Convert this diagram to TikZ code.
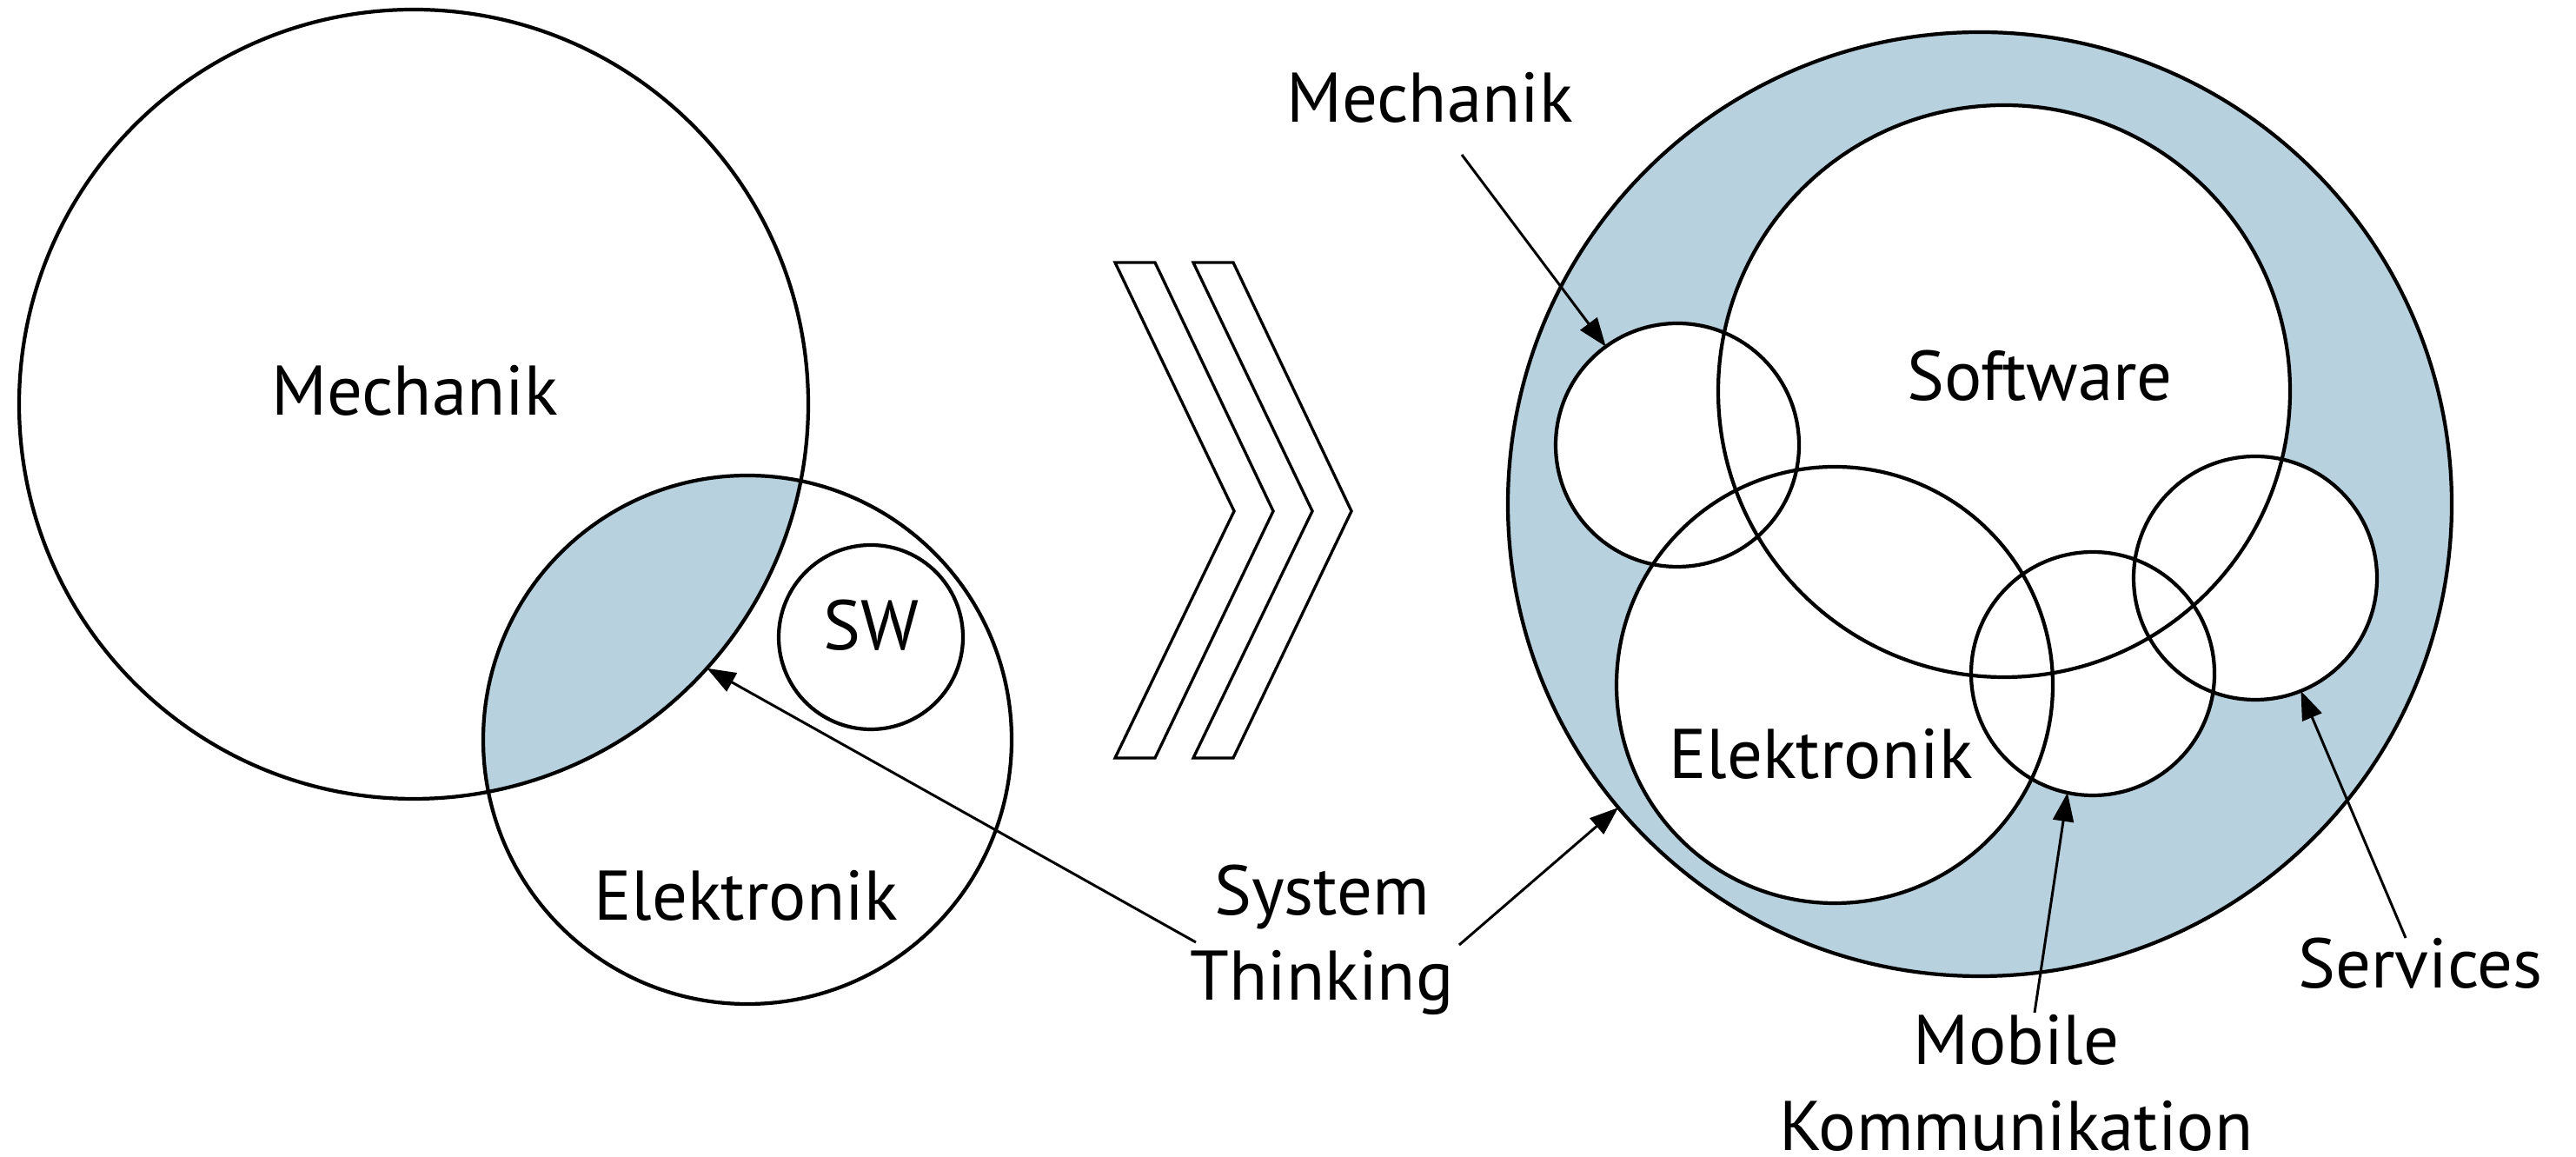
\documentclass[tikz,border=0pt]{standalone}
\usepackage{fontspec}
\setmainfont{PT Sans}
\usetikzlibrary{arrows.meta,positioning,shapes}
\definecolor{ringblue}{RGB}{184,209,222}

\begin{document}
\begin{tikzpicture}[
    ring/.style={circle,inner sep=0pt,outer sep=0pt},
    outline/.style={line width=1.2pt},
    pointer/.style={line width=0.85pt,-{Triangle[length=3.3mm,width=2.4mm]}},
    lbl/.style={inner sep=0pt,font=\fontsize{23}{28}\selectfont,align=center}
  ]
  \useasboundingbox (0,0) rectangle (29.64,13.31); %Picture frame

  % left: before
  \begin{scope}
    \clip (4.76,8.66) circle[radius=4.54];
    \fill[ringblue] (8.60,4.80) circle[radius=3.04]; %Shaded overlap
  \end{scope}
  \node[ring,minimum size=9.08cm] (mechL) at (4.76,8.66) {}; %Mechanik circle
  \node[ring,minimum size=6.08cm] (elekL) at (8.60,4.80) {}; %Elektronik circle
  \node[ring,minimum size=2.12cm] (swL) at (10.02,5.98) {};  %SW circle
  \draw[outline] (mechL.center) circle[radius=4.54];
  \draw[outline] (elekL.center) circle[radius=3.04];
  \draw[outline] (swL.center) circle[radius=1.06];

  \node[lbl,anchor=base] (mechLlbl) at (4.77,8.53) {Mechanik};
  \node[lbl,anchor=base] (elekLlbl) at (8.58,2.72) {Elektronik};
  \node[lbl,anchor=base] (swLlbl) at (10.02,5.83) {SW};

  % chevrons
  \foreach \dx in {0,0.9}
    \draw[line width=0.95pt,shift={(\dx,0)}] (12.83,10.29) -- (13.29,10.29) -- (14.65,7.43)
      -- (13.29,4.59) -- (12.83,4.59) -- (14.20,7.43) -- cycle; %Draw chevron

  % right: after
  \node[ring,fill=ringblue,minimum size=10.86cm] (outer) at (22.78,7.51) {}; %Shaded ring
  \draw[outline] (outer.center) circle[radius=5.43];
  \foreach \nm/\x/\y/\r in {soft/23.06/8.81/3.29, mechR/19.30/8.19/1.40,
      elekR/21.11/5.43/2.51, mob/24.08/5.56/1.40, serv/25.95/6.66/1.40}
    \node[ring,fill=white,minimum size=2*\r cm] (\nm) at (\x,\y) {}; %White discs
  \foreach \nm/\r in {soft/3.29, mechR/1.40, elekR/2.51, mob/1.40, serv/1.40}
    \draw[outline] (\nm.center) circle[radius=\r]; %Outlines on top

  \node[lbl,anchor=base] (softlbl) at (23.47,8.70) {Software};
  \node[lbl,anchor=base] (elekRlbl) at (20.95,4.35) {Elektronik};
  \node[lbl,anchor=base] (mechRlbl) at (16.45,11.90) {Mechanik};
  \node[lbl,anchor=base] (servlbl) at (27.85,1.94) {Services};
  \node[lbl,anchor=north] (moblbl) at (23.20,1.64) {Mobile\\Kommunikation};
  \node[lbl,anchor=north] (syslbl) at (15.21,3.37) {System\\Thinking};

  % pointers
  \coordinate (sysL) at (13.76,2.47);
  \coordinate (sysR) at (16.79,2.44);
  \coordinate (mechRtail) at (16.82,11.53);
  \coordinate (mobtail) at (23.41,1.66);
  \coordinate (servtail) at (27.68,2.52);
  \draw[pointer] (sysL) -- (mechL.-42);     %To overlap
  \draw[pointer] (sysR) -- (outer.220);     %To ring
  \draw[pointer] (mechRtail) -- (mechR.126);
  \draw[pointer] (mobtail) -- (mob.258);
  \draw[pointer] (servtail) -- (serv.292);
\end{tikzpicture}
\end{document}
